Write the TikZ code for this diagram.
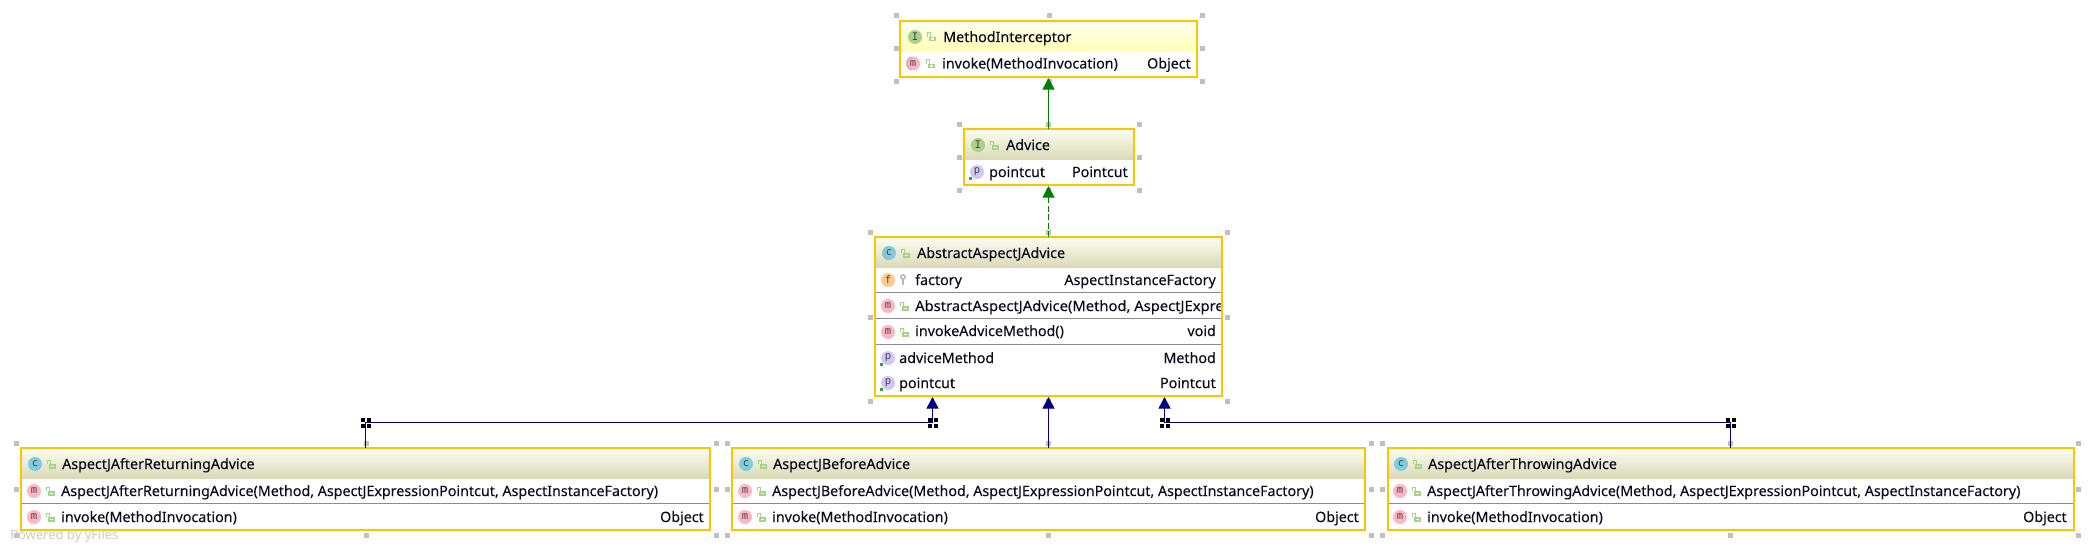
\documentclass[tikz,border=0pt]{standalone}
\usepackage{fontspec}
\setmainfont{Noto Sans}
\newfontfamily\labfont[FakeBold=0.08]{Noto Sans}
\newfontfamily\iconfont{DejaVu Sans Mono}
\definecolor{boxline}{HTML}{FFC400}
\definecolor{sepline}{HTML}{8C8C8C}
\definecolor{handlegray}{HTML}{C0C0C0}
\definecolor{headtop}{HTML}{FDFDF3}
\definecolor{headbot}{HTML}{DADAB8}
\definecolor{yeltop}{HTML}{FFFFF2}
\definecolor{yelbot}{HTML}{FFFFB4}
\definecolor{implgreen}{HTML}{008000}
\definecolor{extblue}{HTML}{000080}
\definecolor{icI}{HTML}{A8D28C}
\definecolor{icm}{HTML}{FFB6C4}
\definecolor{icc}{HTML}{7FCCDE}
\definecolor{icf}{HTML}{FACB8A}
\definecolor{icp}{HTML}{D3C6F5}
\definecolor{lockgreen}{HTML}{A2D48A}
\definecolor{keygray}{HTML}{B8B8B8}
\definecolor{icontext}{HTML}{444444}
\definecolor{labeltext}{HTML}{0A0A1E}
\usetikzlibrary{arrows.meta}
\tikzset{
  x=1pt,y=-1pt,
  boxshape/.style={draw=boxline,line width=2pt,fill=white,rectangle,inner sep=0pt,outer sep=0pt},
  handle/.style={fill=handlegray,rectangle,inner sep=0pt,minimum size=5pt,outer sep=0pt},
  lab/.style={font=\labfont\fontsize{14.27}{16}\selectfont,text=labeltext,inner sep=0pt,anchor=base west},
  labr/.style={font=\labfont\fontsize{14.27}{16}\selectfont,text=labeltext,inner sep=0pt,anchor=base east},
  ico/.style={circle,inner sep=0pt,minimum size=14pt,font=\iconfont\fontsize{10.5}{11}\selectfont,text=icontext},
  sep/.style={draw=sepline,line width=1pt},
  bendblk/.style={fill=black,rectangle,inner sep=0pt,minimum size=4pt},
  implarrow/.style={draw=implgreen,line width=1pt,shorten >=1pt,-{Triangle[length=11.5pt,width=12pt,fill=implgreen]}},
  extarrow/.style={draw=extblue,line width=1pt,shorten >=1pt,-{Triangle[length=11.5pt,width=12pt,fill=extblue]}},
}
% open padlock
\newcommand{\lockic}[2]{%
  \draw[lockgreen,line width=1pt] (#1-4,#2) -- (#1-4,#2-4) -- (#1-1,#2-4) -- (#1-1,#2);
  \fill[lockgreen] (#1-2,#2) rectangle (#1+4.5,#2+4.5);
  \fill[white] (#1+0,#2+1.5) rectangle (#1+2.5,#2+3);}
\newcommand{\keyic}[2]{%
  \draw[keygray,line width=1.4pt] (#1,#2-3) circle (2.2pt);
  \draw[keygray,line width=1.6pt] (#1,#2-1) -- (#1,#2+5);}
% eight selection handles
\newcommand{\handles}[6]{%
  \foreach \hx/\hn in {#1/a,#2/b,#3/c}{\foreach \hy/\hm in {#4/a,#5/b,#6/c}{%
    \ifnum\pdfstrcmp{\hn\hm}{bb}=0\else\node[handle] (h#1x\hn\hm) at (\hx,\hy) {};\fi}}}
\newcommand{\bendmark}[3]{%
  \node[bendblk] (#1a) at (#2-3,#3-3) {};
  \node[bendblk] (#1b) at (#2+3,#3-3) {};
  \node[bendblk] (#1c) at (#2-3,#3+3) {};
  \node[bendblk] (#1d) at (#2+3,#3+3) {};}
\newcommand{\dotp}[2]{\fill[green!55!black!80] (#1-1.5,#2-1.5) rectangle (#1+1.5,#2+1.5);}
\newcommand{\abring}[2]{\draw[gray!60,line width=1pt] (#1-1.5,#2-6.5) arc[start angle=110,end angle=250,radius=7pt];}
\begin{document}
\begin{tikzpicture}
\useasboundingbox (0,0) rectangle (2094,551);
\fill[white] (0,0) rectangle (2094,551);

\handles{896}{1049}{1202}{16}{49}{82}
\handles{959}{1048}{1139}{124}{157}{190}
\handles{870}{1048}{1227.5}{232}{317}{401}
\handles{16}{366}{716}{443}{489}{535}
\handles{727}{1048}{1371}{443}{489}{535}
\handles{1382}{1730}{2078}{443}{489}{535}

\node[text=gray!40,font=\fontsize{13}{15}\selectfont,inner sep=0pt,anchor=base west] (powered) at (10,539) {Powered by yFiles};

% ---------- MethodInterceptor
\node[boxshape,minimum width=297pt,minimum height=56pt] (mi) at (1048.5,49) {};
\shade[top color=yeltop,bottom color=yelbot] (mi.north west) rectangle (1197,51);
\node[ico,fill=icI] (mi1) at (915,37) {I}; \lockic{931}{37}
\node[lab] (mi2) at (943,42) {MethodInterceptor};
\node[ico,fill=icm] (mi3) at (913,63.5) {m}; \abring{913}{63.5} \lockic{930}{64}
\node[lab] (mi4) at (942,68.5) {invoke(MethodInvocation)};
\node[labr] (mi5) at (1191,68.5) {Object};
\draw[draw=boxline,line width=2pt] (mi.south west) rectangle (mi.north east);

% ---------- Advice
\node[boxshape,minimum width=170pt,minimum height=56pt] (ad) at (1048.5,157) {};
\shade[top color=headtop,bottom color=headbot] (ad.north west) rectangle (1133.5,159);
\node[ico,fill=icI] (ad1) at (978,145) {I}; \lockic{994}{145}
\node[lab] (ad2) at (1006,150) {Advice};
\node[ico,fill=icp] (ad3) at (977,172) {p}; \dotp{970}{178}
\node[lab] (ad4) at (989,177) {pointcut};
\node[labr] (ad5) at (1128,177) {Pointcut};
\draw[draw=boxline,line width=2pt] (ad.south west) rectangle (ad.north east);

% ---------- AbstractAspectJAdvice
\node[boxshape,minimum width=347pt,minimum height=159pt] (ab) at (1048.5,316.5) {};
\shade[top color=headtop,bottom color=headbot] (ab.north west) rectangle (1222,267);
\draw[sep] (875,292) -- (1222,292);
\draw[sep] (875,318) -- (1222,318);
\draw[sep] (875,344) -- (1222,344);
\node[ico,fill=icc] (ab1) at (889,253) {c}; \abring{889}{253} \lockic{905}{253}
\node[lab] (ab2) at (917,258) {AbstractAspectJAdvice};
\node[ico,fill=icf] (ab3) at (888,280) {f}; \keyic{903}{280}
\node[lab] (ab4) at (915,285) {factory};
\node[labr] (ab5) at (1216,285) {AspectInstanceFactory};
\node[ico,fill=icm] (ab6) at (888,306) {m}; \lockic{904}{306}
\begin{scope}
\clip (875,294) rectangle (1222,316);
\node[lab] (ab7) at (915,311) {\scalebox{1.033}[1]{AbstractAspectJAdvice(Method, AspectJExpres}};
\end{scope}
\node[ico,fill=icm] (ab8) at (888,332) {m}; \lockic{904}{332}
\node[lab] (ab9) at (915,336) {invokeAdviceMethod()};
\node[labr] (ab10) at (1216,336) {void};
\node[ico,fill=icp] (ab11) at (888,358) {p}; \dotp{881}{364}
\node[lab] (ab12) at (899,363) {adviceMethod};
\node[labr] (ab13) at (1216,363) {Method};
\node[ico,fill=icp] (ab14) at (888,383) {p}; \dotp{881}{389}
\node[lab] (ab15) at (899,388) {pointcut};
\node[labr] (ab16) at (1216,388) {Pointcut};
\draw[draw=boxline,line width=2pt] (ab.south west) rectangle (ab.north east);

% ---------- AspectJAfterReturningAdvice
\node[boxshape,minimum width=689pt,minimum height=82pt] (ar) at (365.5,489) {};
\shade[top color=headtop,bottom color=headbot] (ar.north west) rectangle (710,478);
\draw[sep] (21,503) -- (710,503);
\node[ico,fill=icc] (ar1) at (35,464) {c}; \lockic{51}{464}
\node[lab] (ar2) at (62,469) {AspectJAfterReturningAdvice};
\node[ico,fill=icm] (ar3) at (34,491) {m}; \lockic{50}{491}
\node[lab] (ar4) at (61,496) {AspectJAfterReturningAdvice(Method, AspectJExpressionPointcut, AspectInstanceFactory)};
\node[ico,fill=icm] (ar5) at (34,517) {m}; \lockic{50}{517}
\node[lab] (ar6) at (61,522) {invoke(MethodInvocation)};
\node[labr] (ar7) at (704,522) {Object};
\draw[draw=boxline,line width=2pt] (ar.south west) rectangle (ar.north east);

% ---------- AspectJBeforeAdvice
\node[boxshape,minimum width=633pt,minimum height=82pt] (be) at (1048.5,489) {};
\shade[top color=headtop,bottom color=headbot] (be.north west) rectangle (1365,478);
\draw[sep] (732,503) -- (1365,503);
\node[ico,fill=icc] (be1) at (746,464) {c}; \lockic{762}{464}
\node[lab] (be2) at (773,469) {AspectJBeforeAdvice};
\node[ico,fill=icm] (be3) at (745,491) {m}; \lockic{761}{491}
\node[lab] (be4) at (772,496) {AspectJBeforeAdvice(Method, AspectJExpressionPointcut, AspectInstanceFactory)};
\node[ico,fill=icm] (be5) at (745,517) {m}; \lockic{761}{517}
\node[lab] (be6) at (772,522) {invoke(MethodInvocation)};
\node[labr] (be7) at (1359,522) {Object};
\draw[draw=boxline,line width=2pt] (be.south west) rectangle (be.north east);

% ---------- AspectJAfterThrowingAdvice
\node[boxshape,minimum width=686pt,minimum height=82pt] (at) at (1730.5,489) {};
\shade[top color=headtop,bottom color=headbot] (at.north west) rectangle (2073.5,478);
\draw[sep] (1387.5,503) -- (2073.5,503);
\node[ico,fill=icc] (at1) at (1401,464) {c}; \lockic{1417}{464}
\node[lab] (at2) at (1428,469) {AspectJAfterThrowingAdvice};
\node[ico,fill=icm] (at3) at (1400,491) {m}; \lockic{1416}{491}
\node[lab] (at4) at (1427,496) {AspectJAfterThrowingAdvice(Method, AspectJExpressionPointcut, AspectInstanceFactory)};
\node[ico,fill=icm] (at5) at (1400,517) {m}; \lockic{1416}{517}
\node[lab] (at6) at (1427,522) {invoke(MethodInvocation)};
\node[labr] (at7) at (2067,522) {Object};
\draw[draw=boxline,line width=2pt] (at.south west) rectangle (at.north east);

% ---------- connectors
\draw[implarrow] (ad.north) -- (mi.south);
\draw[implarrow,dash pattern=on 6pt off 2.5pt] (ab.north) -- (ad.south);
\coordinate (b1) at (365.5,422.5);
\coordinate (b2) at (932.5,422.5);
\coordinate (b3) at (1730.5,422.5);
\coordinate (b4) at (1164.5,422.5);
\coordinate (t2) at (932.5,396);
\coordinate (t4) at (1164.5,396);
\draw[extarrow] (be.north) -- (ab.south);
\draw[extarrow] (ar.north) -- (b1) -- (b2) -- (t2);
\draw[extarrow] (at.north) -- (b3) -- (b4) -- (t4);
\bendmark{ba}{365.5}{422.5}
\bendmark{bb}{932.5}{422.5}
\bendmark{bc}{1164.5}{422.5}
\bendmark{bd}{1730.5}{422.5}
\end{tikzpicture}
\end{document}
